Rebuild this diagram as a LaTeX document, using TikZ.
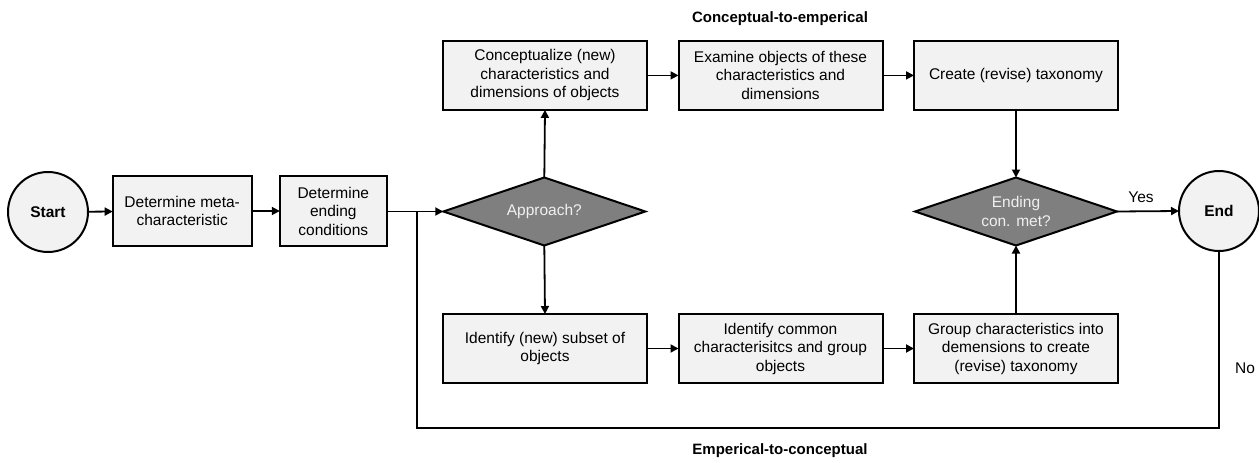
\documentclass[tikz,border=0pt]{standalone}
\usepackage{fontspec}
\setmainfont{Liberation Sans}
\usetikzlibrary{shapes.geometric,arrows.meta}
\definecolor{boxfill}{HTML}{F2F2F2}
\definecolor{diafill}{HTML}{7F7F7F}
\definecolor{diatext}{HTML}{F0F0F0}
\begin{document}
\begin{tikzpicture}[x=1pt,y=-1pt,
  every node/.style={font=\fontsize{15.5}{18.5}\selectfont},
  procbox/.style={draw=black,line width=2pt,fill=boxfill,align=center,inner sep=2pt,outer sep=0pt},
  termcirc/.style={draw=black,line width=2pt,fill=boxfill,circle,minimum size=80pt,inner sep=0pt,outer sep=0pt,font=\fontsize{15.5}{18}\selectfont\bfseries},
  decision/.style={draw=black,line width=2pt,fill=diafill,diamond,aspect=3,minimum width=202pt,minimum height=68pt,inner sep=0pt,outer sep=0pt,align=center,text=diatext},
  flow/.style={line width=1.8pt,-{Triangle[length=8pt,width=8pt]}},
  plain/.style={line width=1.8pt},
  lbl/.style={font=\fontsize{15}{17}\selectfont\bfseries}
]
\useasboundingbox (0,0) rectangle (1259,463);

\node[termcirc] (start) at (48,212) {Start};
\node[procbox,minimum width=139pt,minimum height=70pt] (meta) at (182.2,211) {Determine meta-\\characteristic};
\node[procbox,minimum width=107pt,minimum height=70pt] (endc) at (333.3,211) {Determine\\ending\\conditions};
\node[decision] (appr) at (544.3,211.5) {Approach?};

\node[procbox,minimum width=204pt,minimum height=69pt] (concept) at (545,75.4) {Conceptualize (new)\\characteristics and\\dimensions of objects};
\node[procbox,minimum width=204pt,minimum height=69pt] (examine) at (780.5,75.4) {Examine objects of these\\characteristics and\\dimensions};
\node[procbox,minimum width=204pt,minimum height=69pt] (create) at (1016,75.4) {Create (revise) taxonomy};

\node[procbox,minimum width=204pt,minimum height=69pt] (ident) at (545,348.5) {Identify (new) subset of\\objects};
\node[procbox,minimum width=204pt,minimum height=69pt] (common) at (780.5,348.5) {Identify common\\characterisitcs and group\\objects};
\node[procbox,minimum width=204pt,minimum height=69pt] (group) at (1016,348.5) {Group characteristics into\\demensions to create\\(revise) taxonomy};

\node[decision] (endq) at (1016,211.5) {Ending\\con. met?};
\node[termcirc] (end) at (1219,211) {End};

\node (yes) at (1141,197) {Yes};
\node (no) at (1245,368) {No};
\node[lbl] (toplbl) at (780,19) {Conceptual-to-emperical};
\node[lbl] (botlbl) at (780,451) {Emperical-to-conceptual};

\coordinate (loopc) at (417.3,428);
\coordinate (joinc) at (417.3,211.5);

\draw[flow] (start) -- (meta);
\draw[flow] (meta) -- (endc);
\draw[flow] (endc.east |- appr.west) -- (appr.west);
\draw[flow] (appr.north) -- (concept.south);
\draw[flow] (appr.south) -- (ident.north);
\draw[flow] (concept) -- (examine);
\draw[flow] (examine) -- (create);
\draw[flow] (ident) -- (common);
\draw[flow] (common) -- (group);
\draw[flow] (create.south) -- (endq.north);
\draw[flow] (group.north) -- (endq.south);
\draw[flow] (endq.east) -- (end.west);
\draw[plain] (end.south) |- (loopc) -- (joinc);
\end{tikzpicture}
\end{document}
